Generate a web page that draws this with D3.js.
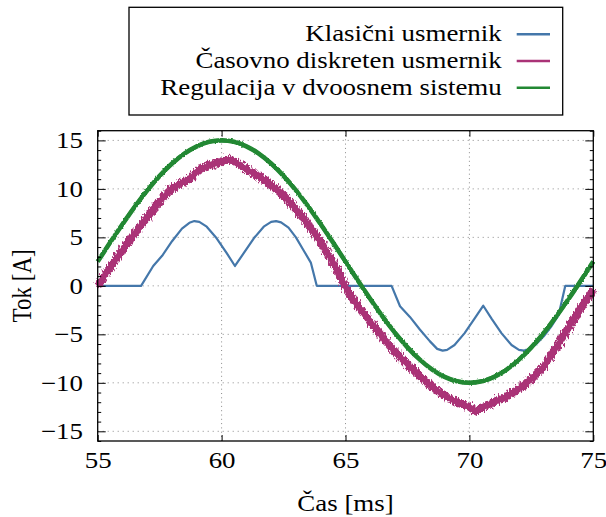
<!DOCTYPE html>
<html>
<head>
<meta charset="utf-8">
<script src="https://cdn.jsdelivr.net/npm/d3@7"></script>
<style>
  html, body { margin: 0; padding: 0; background: #fff; }
</style>
</head>
<body>
<svg id="chart" width="606" height="517"></svg>
<script>
// Series labels and colours (legend order = drawing order)
const seriesNames = ["Klasični usmernik", "Časovno diskreten usmernik", "Regulacija v dvoosnem sistemu"];
const seriesColors = ["#4477aa", "#aa3377", "#228833"];

// Axis ticks
const xTicks = [55, 60, 65, 70, 75];
const yTicks = [-15, -10, -5, 0, 5, 10, 15];
const yMinorTicks = [-16,-14,-13,-12,-11,-9,-8,-7,-6,-4,-3,-2,-1,1,2,3,4,6,7,8,9,11,12,13,14,16];

// Klasični usmernik: time [ms], current [A]
const classicT = [55.0, 56.75, 57.24, 57.6, 58.0, 58.4, 58.7, 58.9, 59.1, 59.4, 59.8, 60.2, 60.54,
  60.9, 61.3, 61.7, 62.0, 62.2, 62.4, 62.7, 63.0, 63.3, 63.6, 63.84,
  66.86, 67.2, 67.6, 68.0, 68.4, 68.7, 68.92, 69.1, 69.4, 69.8, 70.2, 70.56,
  70.9, 71.3, 71.7, 72.0, 72.2, 72.4, 72.7, 73.0, 73.3, 73.6, 73.87, 75.0];
const classicI = [0, 0, 2.05, 3.1, 4.6, 5.9, 6.5, 6.68, 6.6, 6.1, 4.9, 3.4, 2.05,
  3.4, 4.9, 6.1, 6.6, 6.68, 6.55, 6.0, 5.0, 3.7, 2.4, 0,
  0, -2.1, -3.2, -4.5, -5.7, -6.5, -6.68, -6.6, -6.1, -4.9, -3.4, -2.05,
  -3.4, -4.9, -6.1, -6.6, -6.68, -6.55, -6.0, -5.2, -4.2, -3.0, 0, 0];

// Časovno diskreten usmernik
const discreteT = [55.0, 55.5, 56.0, 56.5, 57.0, 57.5, 58.0, 58.5, 58.8, 59.0, 59.5, 60.0, 60.3, 60.5,
  61.0, 61.5, 62.0, 62.5, 63.0, 63.5, 64.0, 64.5, 65.0, 65.5, 66.0, 66.5, 67.0, 67.5,
  68.0, 68.5, 69.0, 69.5, 70.0, 70.3, 70.5, 71.0, 71.5, 72.0, 72.5, 73.0, 73.5, 74.0, 74.5, 75.0];
const discreteI = [0.0, 1.9, 3.7, 5.4, 7.1, 8.7, 10.0, 10.8, 11.2, 11.8, 12.4, 12.8, 13.0, 12.8,
  12.0, 11.3, 10.4, 9.3, 7.9, 6.3, 4.5, 2.4, -0.1, -2.1, -3.7, -5.3, -6.8, -8.1,
  -9.3, -10.4, -11.3, -12.0, -12.5, -12.9, -12.6, -12.0, -11.4, -10.6, -9.6, -8.3, -6.4, -4.3, -2.3, -0.4];

// Regulacija v dvoosnem sistemu
const dqT = [55.0, 55.5, 56.0, 56.5, 57.0, 57.5, 58.0, 58.5, 59.0, 59.5, 60.0, 60.5, 61.0, 61.5,
  62.0, 62.5, 63.0, 63.5, 64.0, 64.5, 65.0, 65.5, 66.0, 66.5, 67.0, 67.5, 68.0, 68.5,
  69.0, 69.5, 70.0, 70.5, 71.0, 71.5, 72.0, 72.5, 73.0, 73.5, 74.0, 74.5, 75.0];
const dqI = [2.5, 4.46, 6.36, 8.18, 9.85, 11.34, 12.61, 13.64, 14.39, 14.85, 15.0, 14.85, 14.39, 13.64,
  12.61, 11.34, 9.85, 8.18, 6.36, 4.46, 2.5, 0.54, -1.36, -3.18, -4.85, -6.34, -7.61, -8.64,
  -9.39, -9.85, -10.0, -9.85, -9.39, -8.64, -7.61, -6.34, -4.85, -3.18, -1.36, 0.54, 2.5];

const FONT = '"Liberation Serif", "Times New Roman"';
const FONT_SIZE = "23px";
const SX = 1.17;              // horizontal text stretch
const svg = d3.select("#chart");
const plot = { left: 97.7, right: 593.3, top: 130.7, bottom: 441 };

const x = d3.scaleLinear().domain([55, 75]).range([plot.left, plot.right]);
const y = d3.scaleLinear().domain([-16, 16]).range([plot.bottom, plot.top]);

const setFont = sel => sel.style("font-family", FONT).style("font-size", FONT_SIZE).style("fill", "#000");

// Ripple texture for the measured (noisy) waveforms
const defs = svg.append("defs");
function ripple(id, freq, amount) {
  const f = defs.append("filter").attr("id", id)
    .attr("filterUnits", "userSpaceOnUse")
    .attr("x", 0).attr("y", 0).attr("width", 606).attr("height", 517);
  f.append("feTurbulence").attr("type", "fractalNoise")
    .attr("baseFrequency", freq).attr("numOctaves", 2).attr("seed", 3).attr("result", "n");
  f.append("feDisplacementMap").attr("in", "SourceGraphic").attr("in2", "n")
    .attr("scale", amount).attr("xChannelSelector", "R").attr("yChannelSelector", "G");
}
ripple("rippleStrong", "0.7 0.25", 8);
ripple("rippleLight", "0.9 0.4", 2.5);

// Dotted major grid
const grid = svg.append("g").attr("stroke", "#8a8a8a").attr("stroke-width", 1);
grid.selectAll("line.h").data(yTicks).join("line")
  .attr("x1", plot.left).attr("x2", plot.right)
  .attr("y1", d => y(d)).attr("y2", d => y(d))
  .attr("stroke-dasharray", "1 4");
grid.selectAll("line.v").data(xTicks.slice(1, -1)).join("line")
  .attr("y1", plot.top).attr("y2", plot.bottom)
  .attr("x1", d => x(d)).attr("x2", d => x(d))
  .attr("stroke-dasharray", "1 3.3");

// Curves
const toPts = (ts, vs) => ts.map((t, i) => [t, vs[i]]);
const line = d3.line().x(d => x(d[0])).y(d => y(d[1]));
const smooth = d3.line().x(d => x(d[0])).y(d => y(d[1])).curve(d3.curveMonotoneX);
const curves = svg.append("g").attr("fill", "none").attr("stroke-linejoin", "round");
curves.append("path").attr("d", line(toPts(classicT, classicI)))
  .attr("stroke", seriesColors[0]).attr("stroke-width", 2.2);
// noisy current: jagged outer band plus solid core
curves.append("path").attr("d", smooth(toPts(discreteT, discreteI)))
  .attr("stroke", seriesColors[1]).attr("stroke-width", 8)
  .attr("filter", "url(#rippleStrong)");
curves.append("path").attr("d", smooth(toPts(discreteT, discreteI)))
  .attr("stroke", seriesColors[1]).attr("stroke-width", 5.4);
curves.append("path").attr("d", smooth(toPts(dqT, dqI)))
  .attr("stroke", seriesColors[2]).attr("stroke-width", 4.6)
  .attr("filter", "url(#rippleLight)");
curves.append("path").attr("d", smooth(toPts(dqT, dqI)))
  .attr("stroke", seriesColors[2]).attr("stroke-width", 3.6);

// Axes with inward ticks on all four sides
function styleAxis(g) {
  g.select(".domain").remove();
  g.attr("font-family", null).attr("font-size", null);
  g.selectAll(".tick line").attr("stroke", "#000").attr("stroke-width", 1);
  g.selectAll(".tick text").call(setFont);
}
const fmt = d3.format("d");
svg.append("g").attr("transform", `translate(${plot.left},0)`)
  .call(d3.axisLeft(y).tickValues(yTicks).tickSizeInner(-8).tickSizeOuter(0).tickPadding(12.6).tickFormat(fmt))
  .call(styleAxis)
  .call(g => g.selectAll(".tick text").attr("transform", `scale(${SX},1)`));
svg.append("g").attr("transform", `translate(${plot.left},0)`)
  .call(d3.axisLeft(y).tickValues(yMinorTicks).tickSizeInner(-3.5).tickSizeOuter(0).tickFormat(""))
  .call(styleAxis);
svg.append("g").attr("transform", `translate(${plot.right},0)`)
  .call(d3.axisRight(y).tickValues(yTicks).tickSizeInner(-8).tickSizeOuter(0).tickFormat(""))
  .call(styleAxis);
svg.append("g").attr("transform", `translate(${plot.right},0)`)
  .call(d3.axisRight(y).tickValues(yMinorTicks).tickSizeInner(-3.5).tickSizeOuter(0).tickFormat(""))
  .call(styleAxis);
svg.append("g").attr("transform", `translate(0,${plot.bottom})`)
  .call(d3.axisBottom(x).tickValues(xTicks).tickSizeInner(-6).tickSizeOuter(0).tickPadding(10.7).tickFormat(fmt))
  .call(styleAxis)
  .call(g => g.selectAll(".tick text").attr("transform", `scale(${SX},1)`));
svg.append("g").attr("transform", `translate(0,${plot.top})`)
  .call(d3.axisTop(x).tickValues(xTicks).tickSizeInner(-6).tickSizeOuter(0).tickFormat(""))
  .call(styleAxis);

// Frame
svg.append("rect")
  .attr("x", plot.left).attr("y", plot.top)
  .attr("width", plot.right - plot.left).attr("height", plot.bottom - plot.top)
  .attr("fill", "none").attr("stroke", "#000").attr("stroke-width", 1.3);

// Text helper with horizontal stretch
function label(x0, y0, str, anchor, rot) {
  const g = svg.append("g")
    .attr("transform", `translate(${x0},${y0}) scale(${SX},1)` + (rot ? ` rotate(${rot})` : ""));
  g.append("text").attr("text-anchor", anchor).call(setFont).text(str);
}
label((plot.left + plot.right) / 2, 511, "Čas [ms]", "middle");
label(31, (plot.top + plot.bottom) / 2, "Tok [A]", "middle", -90);

// Legend
svg.append("rect").attr("x", 129).attr("y", 7.3).attr("width", 433.7).attr("height", 107.7)
  .attr("fill", "#fff").attr("stroke", "#000").attr("stroke-width", 1.3);
const legendY = [34.3, 61, 87.7];
seriesNames.forEach((name, i) => {
  label(501.7, legendY[i] + 6.8, name, "end");
  svg.append("line").attr("x1", 516.7).attr("x2", 550)
    .attr("y1", legendY[i]).attr("y2", legendY[i])
    .attr("stroke", seriesColors[i]).attr("stroke-width", 2.6);
});
</script>
</body>
</html>
